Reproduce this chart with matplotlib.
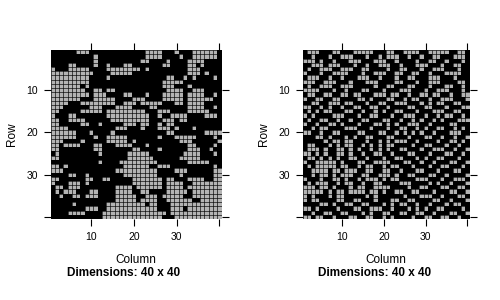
import numpy as np
import matplotlib
matplotlib.use("Agg")
import matplotlib.pyplot as plt
from matplotlib.colors import ListedColormap

# grey cells of each row, as (first, last) column runs, 0-based
left_runs = [
    [(6, 8), (22, 25), (29, 29), (33, 38)],
    [(10, 10), (22, 25), (30, 30), (33, 38)],
    [(10, 10), (21, 22), (27, 27), (32, 35)],
    [(4, 5), (10, 10), (13, 13), (17, 18), (26, 27), (32, 33), (35, 35)],
    [(0, 0), (4, 8), (13, 20), (22, 22), (32, 34)],
    [(0, 9), (14, 18), (32, 34), (36, 36)],
    [(0, 8), (13, 13), (27, 28), (31, 31), (33, 33), (38, 38)],
    [(0, 8), (26, 30)],
    [(0, 6), (8, 8), (26, 28), (32, 32)],
    [(0, 7), (10, 11), (13, 14), (27, 30), (33, 35)],
    [(0, 8), (10, 12), (17, 18), (22, 22), (26, 30), (32, 35), (38, 38)],
    [(0, 6), (10, 14), (19, 21), (26, 30), (32, 37)],
    [(0, 3), (7, 14), (17, 19), (21, 25), (29, 30), (32, 35)],
    [(0, 2), (9, 11), (15, 18), (23, 24), (32, 35), (38, 38)],
    [(0, 1), (7, 11), (13, 21), (25, 27), (32, 36)],
    [(0, 0), (4, 5), (13, 22), (25, 25), (28, 31), (36, 38)],
    [(0, 1), (4, 7), (14, 22), (26, 28), (30, 31)],
    [(0, 1), (7, 8), (11, 11), (17, 19), (21, 22), (25, 25), (27, 28)],
    [(0, 3), (15, 17), (21, 21), (25, 27), (29, 29), (33, 33)],
    [(0, 5), (9, 9), (14, 14), (27, 28), (36, 39)],
    [(0, 5), (10, 10), (13, 17), (25, 25), (29, 33), (38, 38)],
    [(0, 2), (7, 7), (13, 17), (19, 19), (30, 32), (39, 39)],
    [(0, 1), (3, 6), (10, 11), (15, 18), (22, 22), (32, 33), (38, 38)],
    [(0, 1), (10, 11), (19, 20), (25, 25), (32, 34), (37, 37)],
    [(1, 1), (11, 11), (18, 22), (31, 34), (38, 38)],
    [(0, 1), (18, 23), (30, 34)],
    [(11, 11), (16, 24), (32, 36)],
    [(0, 1), (3, 3), (17, 22), (25, 27), (38, 38)],
    [(0, 2), (15, 24), (29, 31), (38, 39)],
    [(4, 5), (8, 8), (17, 24), (30, 30), (38, 39)],
    [(0, 1), (8, 9), (12, 13), (19, 25), (27, 28), (32, 35), (38, 39)],
    [(0, 0), (4, 6), (8, 8), (19, 25), (27, 30), (33, 39)],
    [(1, 2), (4, 6), (15, 18), (20, 25), (27, 30), (32, 39)],
    [(1, 1), (3, 5), (9, 10), (15, 18), (21, 22), (27, 31), (33, 39)],
    [(2, 2), (5, 6), (8, 10), (15, 19), (22, 24), (26, 30), (33, 39)],
    [(15, 19), (21, 24), (27, 32), (35, 39)],
    [(5, 5), (13, 21), (23, 24), (28, 39)],
    [(8, 10), (13, 24), (28, 30), (32, 39)],
    [(4, 7), (12, 26), (28, 39)],
    [(12, 25), (29, 39)],
]

right_runs = [
    [(1, 3), (7, 8), (12, 16), (20, 21), (24, 27), (30, 34), (37, 38)],
    [(2, 2), (6, 6), (9, 11), (15, 15), (18, 18), (20, 22), (25, 25), (28, 28), (31, 32), (36, 38)],
    [(0, 2), (4, 4), (7, 7), (11, 13), (17, 19), (22, 22), (27, 27), (30, 31), (34, 34), (38, 38)],
    [(2, 4), (6, 8), (12, 12), (15, 15), (18, 20), (23, 23), (27, 29), (33, 33), (36, 37)],
    [(1, 1), (4, 6), (9, 11), (14, 15), (20, 20), (23, 24), (28, 28), (31, 33), (37, 37)],
    [(0, 0), (4, 4), (7, 10), (14, 14), (17, 19), (22, 23), (26, 27), (30, 30), (34, 37)],
    [(1, 3), (6, 6), (9, 9), (13, 15), (18, 18), (22, 22), (25, 26), (30, 32), (36, 36)],
    [(0, 2), (5, 7), (11, 11), (15, 17), (22, 23), (27, 27), (30, 32), (37, 38)],
    [(1, 1), (4, 6), (9, 11), (17, 17), (20, 21), (25, 26), (30, 30), (34, 35), (38, 38)],
    [(0, 3), (7, 7), (10, 10), (14, 15), (19, 19), (23, 25), (29, 29), (32, 34), (38, 38)],
    [(1, 2), (5, 6), (9, 10), (12, 13), (17, 19), (21, 22), (25, 25), (28, 29), (31, 32), (35, 35), (38, 39)],
    [(0, 0), (3, 4), (7, 8), (13, 14), (16, 16), (20, 21), (24, 24), (26, 27), (30, 30), (33, 35), (39, 39)],
    [(2, 3), (6, 8), (10, 11), (15, 15), (18, 19), (22, 24), (28, 28), (30, 30), (32, 33), (36, 37)],
    [(0, 1), (4, 4), (6, 6), (9, 9), (12, 13), (16, 17), (20, 20), (25, 26), (29, 30), (34, 34), (38, 39)],
    [(1, 1), (3, 3), (5, 6), (10, 11), (14, 14), (17, 17), (19, 19), (22, 23), (27, 27), (31, 33), (36, 37)],
    [(0, 0), (2, 2), (7, 9), (13, 13), (16, 17), (21, 21), (24, 26), (29, 29), (32, 32), (34, 35), (38, 38)],
    [(1, 1), (4, 5), (8, 8), (11, 11), (14, 15), (19, 20), (23, 23), (26, 26), (28, 28), (31, 31), (33, 33), (37, 39)],
    [(0, 0), (3, 3), (6, 7), (9, 9), (13, 13), (17, 18), (20, 20), (22, 22), (25, 27), (30, 30), (35, 36)],
    [(2, 2), (4, 5), (10, 12), (16, 16), (20, 20), (23, 24), (27, 27), (29, 29), (32, 33), (36, 36), (38, 38)],
    [(0, 1), (4, 4), (7, 8), (13, 14), (18, 19), (22, 22), (24, 24), (26, 26), (28, 28), (31, 31), (35, 37)],
    [(3, 4), (6, 6), (10, 10), (12, 12), (15, 16), (20, 21), (25, 25), (29, 30), (33, 33), (36, 36), (39, 39)],
    [(5, 5), (7, 8), (10, 11), (15, 15), (18, 18), (20, 20), (22, 24), (27, 27), (32, 32), (35, 36), (38, 38)],
    [(1, 2), (6, 6), (8, 8), (10, 11), (14, 14), (16, 16), (18, 18), (20, 21), (26, 26), (29, 30), (34, 34), (37, 37)],
    [(1, 3), (5, 5), (8, 9), (11, 11), (13, 13), (16, 16), (18, 18), (20, 20), (23, 24), (28, 28), (31, 33), (36, 36), (39, 39)],
    [(0, 1), (3, 3), (5, 5), (8, 9), (11, 11), (14, 14), (17, 18), (21, 21), (25, 26), (30, 30), (34, 35), (38, 38)],
    [(1, 2), (4, 4), (6, 6), (8, 8), (11, 12), (15, 15), (19, 19), (22, 23), (27, 27), (29, 29), (32, 33), (37, 37)],
    [(0, 0), (3, 7), (9, 9), (13, 14), (17, 20), (24, 25), (28, 28), (31, 31), (35, 36), (39, 39)],
    [(1, 1), (3, 7), (9, 10), (13, 13), (15, 16), (19, 19), (21, 22), (26, 26), (30, 30), (33, 34), (38, 38)],
    [(2, 5), (7, 8), (10, 12), (15, 16), (19, 20), (23, 23), (27, 28), (32, 32), (36, 37)],
    [(2, 2), (4, 5), (7, 7), (9, 11), (14, 15), (18, 20), (22, 22), (25, 26), (30, 31), (34, 34), (39, 39)],
    [(0, 0), (4, 4), (7, 8), (10, 10), (13, 13), (15, 17), (19, 19), (21, 22), (27, 29), (33, 33), (36, 38)],
    [(1, 1), (3, 5), (8, 8), (10, 11), (14, 14), (17, 18), (23, 25), (30, 30), (32, 32), (35, 35), (39, 39)],
    [(0, 2), (4, 5), (7, 7), (11, 11), (13, 14), (17, 20), (25, 25), (28, 29), (33, 34), (37, 38)],
    [(0, 4), (6, 6), (8, 9), (11, 14), (16, 17), (19, 19), (22, 23), (26, 27), (31, 31), (35, 36), (39, 39)],
    [(0, 0), (2, 2), (6, 6), (8, 9), (15, 15), (17, 17), (24, 24), (28, 30), (33, 33), (37, 38)],
    [(0, 0), (2, 3), (8, 9), (12, 13), (17, 17), (21, 22), (25, 26), (31, 32), (35, 35), (39, 39)],
    [(4, 5), (7, 7), (10, 11), (14, 15), (19, 19), (21, 21), (23, 24), (27, 27), (30, 30), (34, 34), (36, 37)],
    [(0, 1), (3, 3), (8, 8), (12, 13), (16, 18), (21, 21), (25, 25), (27, 27), (29, 29), (32, 33), (38, 38)],
    [(2, 2), (5, 6), (9, 10), (14, 14), (16, 16), (19, 20), (23, 24), (27, 28), (31, 31), (35, 36), (39, 39)],
    [(0, 1), (3, 4), (7, 7), (11, 12), (15, 16), (19, 19), (21, 21), (26, 26), (29, 30), (33, 34), (37, 37)],
]

n_rows, n_cols = 40, 40
tick_vals = [10, 20, 30, 40]
tick_labels = ["10", "20", "30", ""]


def runs_to_matrix(runs):
    m = np.zeros((n_rows, n_cols))
    for r, row in enumerate(runs):
        for a, b in row:
            m[r, a:b + 1] = 1
    return m


plt.rcParams["font.family"] = ["Liberation Sans", "DejaVu Sans"]
fig = plt.figure(figsize=(5, 3), dpi=100)
cmap = ListedColormap(["black", "#b3b3b3"])

panels = [
    (runs_to_matrix(left_runs), [0.101, 0.27, 0.342, 0.563], 0.248),
    (runs_to_matrix(right_runs), [0.605, 0.27, 0.334, 0.563], 0.75),
]

for mat, rect, lab_x in panels:
    ax = fig.add_axes(rect)
    xe = np.arange(n_cols + 1) + 0.5
    ye = np.arange(n_rows + 1) + 0.5
    ax.pcolormesh(xe, ye, mat, cmap=cmap, vmin=0, vmax=1,
                  edgecolors="none", antialiased=False)
    # thin black borders between cells
    ax.hlines(ye, 0.5, 40.5, colors="black", linewidth=0.45)
    ax.vlines(xe, 0.5, 40.5, colors="black", linewidth=0.45)
    ax.set_xlim(0.5, 40.5)
    ax.set_ylim(40.5, 0.5)
    ax.set_xticks(tick_vals)
    ax.set_xticklabels(tick_labels)
    ax.set_yticks(tick_vals)
    ax.set_yticklabels(tick_labels)
    ax.tick_params(direction="out", length=5, width=0.8, labelsize=7.5,
                   top=True, right=True, pad=4)
    for s in ax.spines.values():
        s.set_visible(False)
    ax.set_xlabel("Column", fontsize=8.5, labelpad=9)
    ax.set_ylabel("Row", fontsize=8.5, labelpad=6)
    fig.text(lab_x, 0.09, "Dimensions: 40 x 40", fontsize=8.5, fontweight="bold",
             ha="center", va="center")

fig.savefig("out.png", dpi=100, facecolor="white")
